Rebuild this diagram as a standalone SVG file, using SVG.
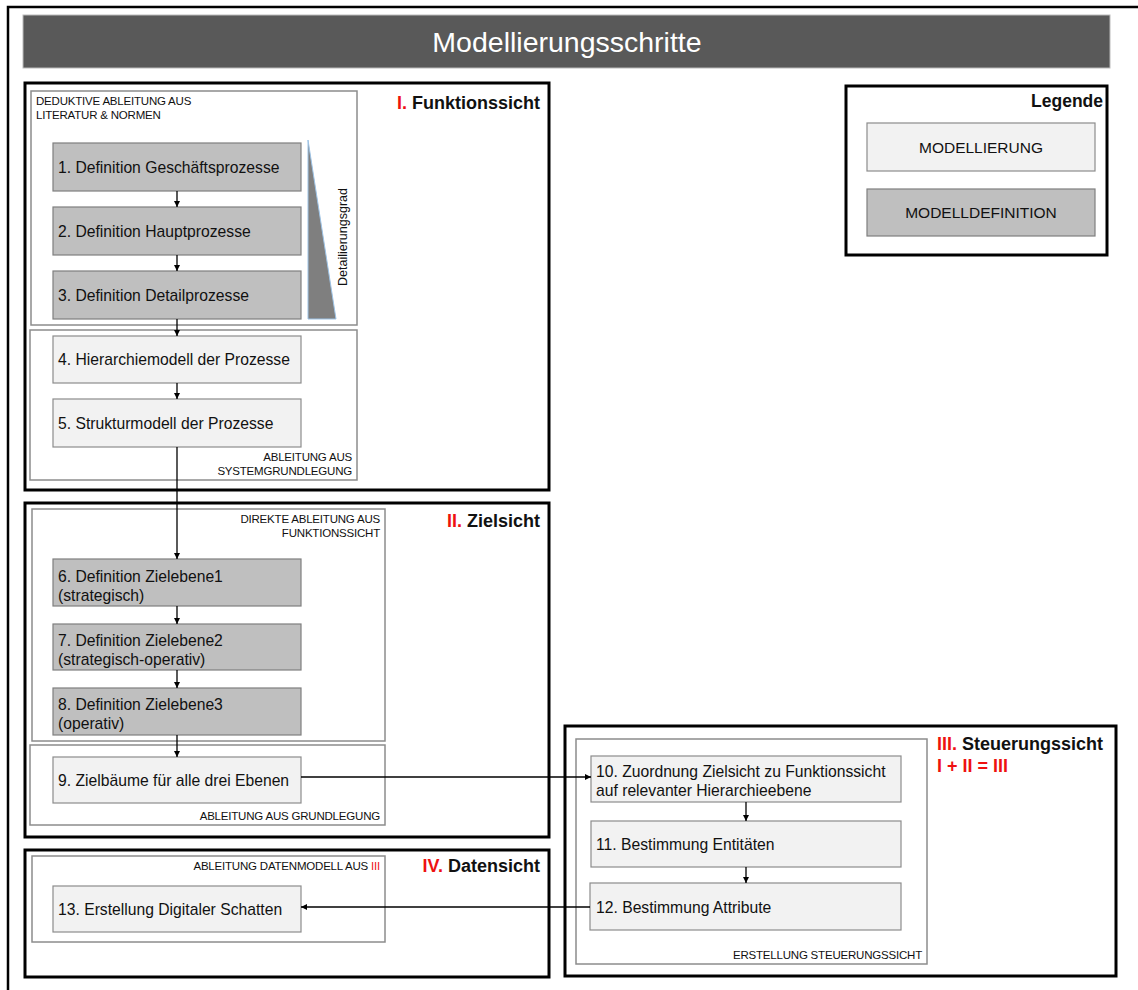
<svg xmlns="http://www.w3.org/2000/svg" width="1138" height="990" viewBox="0 0 1138 990">
  <defs>
    <marker id="arr" viewBox="0 0 6 6" refX="6" refY="3" markerWidth="6" markerHeight="6" markerUnits="userSpaceOnUse" orient="auto">
      <path d="M0,0 L6,3 L0,6 z" fill="#000"/>
    </marker>
    <style>
      text { font-family: "Liberation Sans", Arial, sans-serif; fill: #111; }
      .section { fill: #fff; stroke: #000; stroke-width: 3; }
      .group { fill: #fff; stroke: #8c8c8c; stroke-width: 1.5; }
      .def { fill: #bfbfbf; stroke: #7f7f7f; stroke-width: 1.2; }
      .mod { fill: #f2f2f2; stroke: #8c8c8c; stroke-width: 1.2; }
      .lbl { font-size: 15.7px; }
      .small { font-size: 11.5px; letter-spacing: -0.2px; }
      .head { font-size: 18px; font-weight: bold; }
      .red { fill: #ee1111; }
      .conn { fill: none; stroke: #000; stroke-width: 1.3; marker-end: url(#arr); }
    </style>
  </defs>

  <rect width="1138" height="990" fill="#fff"/>
  <!-- page frame -->
  <path d="M8,990 V7 H1138" fill="none" stroke="#000" stroke-width="2.5"/>

  <!-- title bar -->
  <g id="title">
    <rect x="23" y="15" width="1087" height="53" fill="#595959" stroke="#bbb" stroke-width="1"/>
    <text x="567" y="52" text-anchor="middle" style="font-size:28.5px; fill:#fff">Modellierungsschritte</text>
  </g>

  <!-- I. Funktionssicht -->
  <g id="sec-funktion">
    <rect class="section" x="25" y="83" width="524" height="407"/>
    <text class="head" x="540" y="109" text-anchor="end"><tspan class="red">I.</tspan> Funktionssicht</text>
    <rect class="group" x="31" y="91" width="326" height="234"/>
    <text class="small" x="36" y="105">DEDUKTIVE ABLEITUNG AUS</text>
    <text class="small" x="36" y="119">LITERATUR &amp; NORMEN</text>
    <rect class="group" x="30" y="330" width="327" height="150"/>
    <text class="small" x="352" y="461" text-anchor="end">ABLEITUNG AUS</text>
    <text class="small" x="352" y="475" text-anchor="end">SYSTEMGRUNDLEGUNG</text>
  </g>

  <g id="detailgrad">
    <polygon points="308,140 336,319 308,319" fill="#7f7f7f" stroke="#9dc3e6" stroke-width="1"/>
    <text x="0" y="0" transform="translate(347,237) rotate(-90)" text-anchor="middle" style="font-size:12.5px">Detailierungsgrad</text>
  </g>

  <g id="n1"><rect class="def" x="53" y="143" width="248" height="48"/><text class="lbl" x="58" y="173">1. Definition Geschäftsprozesse</text></g>
  <g id="n2"><rect class="def" x="53" y="207" width="248" height="48"/><text class="lbl" x="58" y="237">2. Definition Hauptprozesse</text></g>
  <g id="n3"><rect class="def" x="53" y="271" width="248" height="48"/><text class="lbl" x="58" y="301">3. Definition Detailprozesse</text></g>
  <g id="n4"><rect class="mod" x="53" y="336" width="248" height="47"/><text class="lbl" x="58" y="365">4. Hierarchiemodell der Prozesse</text></g>
  <g id="n5"><rect class="mod" x="53" y="399" width="248" height="48"/><text class="lbl" x="58" y="429">5. Strukturmodell der Prozesse</text></g>

  <!-- II. Zielsicht -->
  <g id="sec-ziel">
    <rect class="section" x="25" y="503" width="524" height="334"/>
    <text class="head" x="540" y="527" text-anchor="end"><tspan class="red">II.</tspan> Zielsicht</text>
    <rect class="group" x="32" y="509" width="353" height="232"/>
    <text class="small" x="380" y="523" text-anchor="end">DIREKTE  ABLEITUNG AUS</text>
    <text class="small" x="380" y="537" text-anchor="end">FUNKTIONSSICHT</text>
    <rect class="group" x="30" y="745" width="355" height="80"/>
    <text class="small" x="380" y="820" text-anchor="end">ABLEITUNG AUS GRUNDLEGUNG</text>
  </g>

  <g id="n6"><rect class="def" x="53" y="559" width="248" height="47"/><text class="lbl" x="58" y="582">6. Definition Zielebene1</text><text class="lbl" x="58" y="601">(strategisch)</text></g>
  <g id="n7"><rect class="def" x="53" y="624" width="248" height="46"/><text class="lbl" x="58" y="646">7. Definition Zielebene2</text><text class="lbl" x="58" y="665">(strategisch-operativ)</text></g>
  <g id="n8"><rect class="def" x="53" y="688" width="248" height="47"/><text class="lbl" x="58" y="710">8. Definition Zielebene3</text><text class="lbl" x="58" y="729">(operativ)</text></g>
  <g id="n9"><rect class="mod" x="53" y="757" width="248" height="46"/><text class="lbl" x="58" y="786">9. Zielbäume für alle drei Ebenen</text></g>

  <!-- III. Steuerungssicht -->
  <g id="sec-steuerung">
    <rect class="section" x="565" y="726" width="551" height="250"/>
    <text class="head" x="937" y="750"><tspan class="red">III.</tspan> Steuerungssicht</text>
    <text class="head red" x="937" y="772">I + II = III</text>
    <rect class="group" x="576" y="739" width="351" height="225"/>
    <text class="small" x="922" y="959" text-anchor="end">ERSTELLUNG STEUERUNGSSICHT</text>
  </g>

  <g id="n10"><rect class="mod" x="591" y="756" width="310" height="46"/><text class="lbl" x="596" y="777">10. Zuordnung Zielsicht zu Funktionssicht</text><text class="lbl" x="596" y="796">auf relevanter Hierarchieebene</text></g>
  <g id="n11"><rect class="mod" x="591" y="821" width="310" height="46"/><text class="lbl" x="596" y="850">11. Bestimmung Entitäten</text></g>
  <g id="n12"><rect class="mod" x="590" y="883" width="311" height="47"/><text class="lbl" x="596" y="913">12. Bestimmung Attribute</text></g>

  <!-- IV. Datensicht -->
  <g id="sec-daten">
    <rect class="section" x="25" y="850" width="524" height="127"/>
    <text class="head" x="540" y="872" text-anchor="end"><tspan class="red">IV.</tspan> Datensicht</text>
    <rect class="group" x="32" y="856" width="353" height="86"/>
    <text class="small" x="380" y="870" text-anchor="end">ABLEITUNG DATENMODELL AUS <tspan class="red">III</tspan></text>
  </g>

  <g id="n13"><rect class="mod" x="53" y="886" width="248" height="46"/><text class="lbl" x="58" y="915">13. Erstellung Digitaler Schatten</text></g>

  <!-- Legende -->
  <g id="legend">
    <rect class="section" x="846" y="86" width="261" height="169"/>
    <text class="head" x="1103" y="107" text-anchor="end" style="font-size:17.5px">Legende</text>
    <rect class="mod" x="867" y="123" width="228" height="48"/>
    <text x="981" y="153" text-anchor="middle" style="font-size:15.5px">MODELLIERUNG</text>
    <rect class="def" x="867" y="189" width="228" height="47"/>
    <text x="981" y="218" text-anchor="middle" style="font-size:15.5px">MODELLDEFINITION</text>
  </g>

  <!-- connectors -->
  <g id="connectors">
    <line class="conn" x1="177" y1="191" x2="177" y2="207"/>
    <line class="conn" x1="177" y1="255" x2="177" y2="271"/>
    <line class="conn" x1="177" y1="319" x2="177" y2="336"/>
    <line class="conn" x1="177" y1="383" x2="177" y2="399"/>
    <line class="conn" x1="177" y1="447" x2="177" y2="559"/>
    <line class="conn" x1="177" y1="606" x2="177" y2="624"/>
    <line class="conn" x1="177" y1="670" x2="177" y2="688"/>
    <line class="conn" x1="177" y1="735" x2="177" y2="757"/>
    <line class="conn" x1="301" y1="777" x2="591" y2="777"/>
    <line class="conn" x1="746" y1="802" x2="746" y2="821"/>
    <line class="conn" x1="746" y1="867" x2="746" y2="883"/>
    <line class="conn" x1="590" y1="907" x2="301" y2="907"/>
  </g>
</svg>
